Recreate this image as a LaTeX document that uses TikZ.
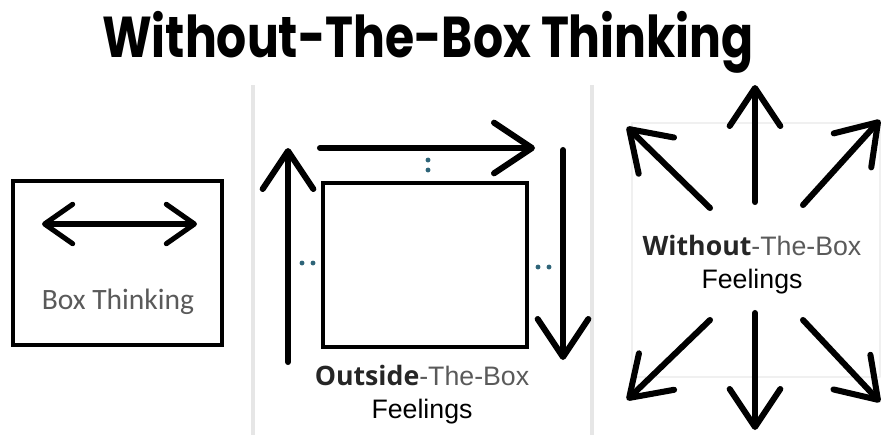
\documentclass[tikz,border=0pt]{standalone}
\usepackage{fontspec}
\setmainfont{Liberation Sans}
\newfontfamily\titlefont{Poppins}[BoldFont={* Bold}]
\newfontfamily\boxfont{Carlito}
\newfontfamily\strongfont{Open Sans}
\usetikzlibrary{arrows.meta}
\definecolor{dotteal}{HTML}{2E6478}
\definecolor{labelgray}{HTML}{5A5A5A}
\definecolor{rulegray}{HTML}{E6E6E6}

\begin{document}
\begin{tikzpicture}[x=0.025cm,y=-0.025cm,line join=round,line cap=round]
\tikzstyle{box edge} = [draw,line width=2.8pt,line cap=butt,line join=miter]
\tikzstyle{small arrow} = [line width=3.6pt,{Straight Barb[length=20pt,width=28pt,round]}-{Straight Barb[length=20pt,width=28pt,round]}]
\tikzstyle{big arrow} = [line width=4.3pt,-{Straight Barb[length=27pt,width=36pt,round]}]
\tikzstyle{tiny dot} = [circle,fill=dotteal,inner sep=0pt,minimum size=3.5pt]
\tikzstyle{label} = [font=\fontsize{19}{23}\selectfont,align=center,inner sep=0pt]

\useasboundingbox (0,0) rectangle (883,435);

\node[anchor=base,inner sep=0pt] (title) at (428,57)
  {\scalebox{0.82}[1]{\titlefont\bfseries\fontsize{41}{44}\selectfont Without-The-Box Thinking}};

% panel rules
\coordinate (R1)  at (253,85);
\coordinate (R1b) at (253,435);
\coordinate (R2)  at (592,85);
\coordinate (R2b) at (592,435);
\draw[rulegray,line width=3pt,line cap=butt] (R1) -- (R1b);
\draw[rulegray,line width=3pt,line cap=butt] (R2) -- (R2b);

% box thinking
\coordinate (A)  at (13,181);
\coordinate (A1) at (222,345);
\coordinate (L)  at (42,224);
\coordinate (R)  at (197,224);
\draw[box edge] (A) rectangle (A1);
\draw[small arrow] (L) -- (R);
\node[anchor=base,inner sep=0pt,text=labelgray] (boxlabel) at (118,309)
  {\boxfont\fontsize{21}{25}\selectfont Box Thinking};

% outside the box
\coordinate (B)  at (323,183);
\coordinate (B1) at (527,347);
\coordinate (UpS) at (288,362);
\coordinate (UpT) at (288,148);
\coordinate (RtS) at (320,148);
\coordinate (RtT) at (535,148);
\coordinate (DnS) at (563,150);
\coordinate (DnT) at (563,360);
\draw[box edge] (B) rectangle (B1);
\draw[big arrow] (UpS) -- (UpT);
\draw[big arrow] (RtS) -- (RtT);
\draw[big arrow] (DnS) -- (DnT);
\node[tiny dot] (d1) at (428,160) {};
\node[tiny dot] (d2) at (428,170) {};
\node[tiny dot] (d3) at (302,263) {};
\node[tiny dot] (d4) at (313,263) {};
\node[tiny dot] (d5) at (538,267) {};
\node[tiny dot] (d6) at (549,267) {};
\node[label,anchor=base] (outlabel) at (422,418)
  {{\strongfont\bfseries\color{black!85}Outside}{\color{labelgray}-The-Box}\\Feelings};

% without the box
\coordinate (C)  at (632,123);
\coordinate (C1) at (880,377);
\draw[black!6,line width=1pt] (C) rectangle (C1);
\coordinate (N)   at (755,202);  \coordinate (NT)  at (755,85);
\coordinate (S)   at (755,313);  \coordinate (ST)  at (755,430);
\coordinate (NW)  at (710,208);  \coordinate (NWT) at (627,127);
\coordinate (NE)  at (803,205);  \coordinate (NET) at (880,120);
\coordinate (SW)  at (710,320);  \coordinate (SWT) at (627,400);
\coordinate (SE)  at (803,320);  \coordinate (SET) at (880,402);
\draw[big arrow] (N) -- (NT);
\draw[big arrow] (S) -- (ST);
\draw[big arrow] (NW) -- (NWT);
\draw[big arrow] (NE) -- (NET);
\draw[big arrow] (SW) -- (SWT);
\draw[big arrow] (SE) -- (SET);
\node[label,anchor=base] (withoutlabel) at (752,288)
  {{\strongfont\bfseries\color{black!85}Without}{\color{labelgray}-The-Box}\\Feelings};

\end{tikzpicture}
\end{document}
